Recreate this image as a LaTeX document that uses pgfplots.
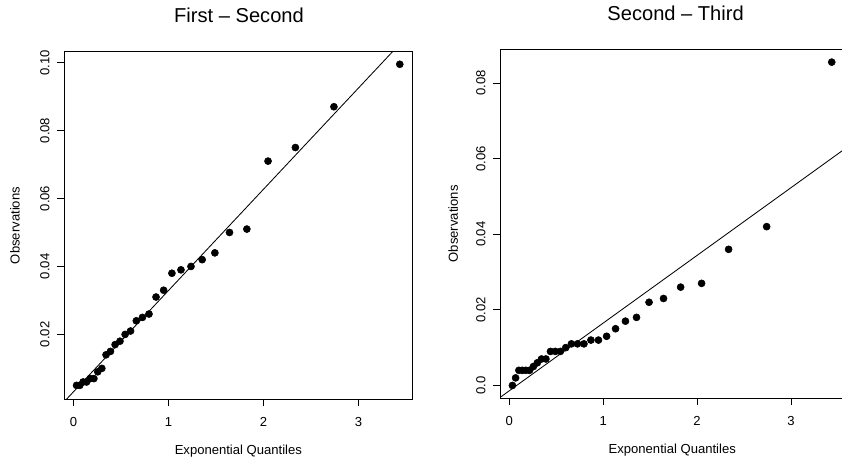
\documentclass[border=0pt]{standalone}
\usepackage{fontspec}
\setmainfont{Liberation Sans}
\usepackage{pgfplots}
\pgfplotsset{compat=1.18}

% x positions: exponential quantiles log(31/(31-i)), i = 1..30
\pgfplotsset{
  qq/.style={
    scale only axis,
    tick align=outside,
    tick pos=left,
    major tick length=0.17cm,
    axis line style={line width=0.7pt},
    every tick/.style={line width=0.6pt, black},
    /pgf/number format/assume math mode=true,
    scaled ticks=false,
    tick label style={font=\fontsize{9.3}{11}\selectfont},
    label style={font=\fontsize{9.3}{11}\selectfont},
    xlabel={Exponential Quantiles},
    ylabel={Observations},
    xmin=-0.0994, xmax=3.57,
    xtick={0,1,2,3},
    xticklabels={0,1,2,3},
    xticklabel style={yshift=-0.16cm},
    yticklabel shift=2pt,
    yticklabel style={rotate=90, anchor=south},
    clip=true,
  },
  pts/.style={only marks, mark=*, mark size=2.5pt, black},
  ref/.style={black, line width=0.6pt, no marks},
}

\begin{document}
\begin{tikzpicture}
\useasboundingbox (0,0) rectangle (21.05,-11.575);
\clip (0,0) rectangle (21.05,-11.575);

\begin{axis}[qq,
    at={(1.6cm,-9.9825cm)}, anchor=south west,
    width=8.7175cm, height=8.69cm,
    ymin=0.0009, ymax=0.1032,
    ytick={0.02,0.04,0.06,0.08,0.10},
    yticklabels={0.02,0.04,0.06,0.08,0.10},
    xlabel style={at={(axis description cs:0.5,-0.1496)}, anchor=center},
    ylabel style={at={(axis description cs:-0.1405,0.5)}, anchor=center},
]
\addplot[ref] coordinates {(-0.2,-0.00286) (3.7,0.1134)};
\addplot[pts] coordinates {
  (0.03279,0.005) (0.06669,0.005) (0.10178,0.006) (0.13815,0.006)
  (0.17589,0.007) (0.21511,0.007) (0.25593,0.009) (0.29849,0.010)
  (0.34294,0.014) (0.38946,0.015) (0.43825,0.017) (0.48955,0.018)
  (0.54362,0.020) (0.60077,0.021) (0.66140,0.024) (0.72594,0.025)
  (0.79493,0.026) (0.86904,0.031) (0.94908,0.033) (1.03609,0.038)
  (1.13140,0.039) (1.23676,0.040) (1.35454,0.042) (1.48807,0.044)
  (1.64222,0.050) (1.82455,0.051) (2.04769,0.071) (2.33537,0.075)
  (2.74084,0.087) (3.43399,0.0995)
};
\end{axis}

\begin{axis}[qq,
    at={(12.5cm,-9.9575cm)}, anchor=south west,
    width=8.6125cm, height=8.725cm,
    ymin=-0.0034, ymax=0.0889,
    ytick={0,0.02,0.04,0.06,0.08},
    yticklabels={0.0,0.02,0.04,0.06,0.08},
    xlabel style={at={(axis description cs:0.5,-0.148)}, anchor=center},
    ylabel style={at={(axis description cs:-0.1358,0.5)}, anchor=center},
]
\addplot[ref] coordinates {(-0.2,-0.00498) (3.7,0.06483)};
\addplot[pts] coordinates {
  (0.03279,0.000) (0.06669,0.002) (0.10178,0.004) (0.13815,0.004)
  (0.17589,0.004) (0.21511,0.004) (0.25593,0.005) (0.29849,0.006)
  (0.34294,0.007) (0.38946,0.007) (0.43825,0.009) (0.48955,0.009)
  (0.54362,0.009) (0.60077,0.010) (0.66140,0.011) (0.72594,0.011)
  (0.79493,0.011) (0.86904,0.012) (0.94908,0.012) (1.03609,0.013)
  (1.13140,0.015) (1.23676,0.017) (1.35454,0.018) (1.48807,0.022)
  (1.64222,0.023) (1.82455,0.026) (2.04769,0.027) (2.33537,0.036)
  (2.74084,0.042) (3.43399,0.0855)
};
\end{axis}

% panel titles
\node[font=\fontsize{14.3}{17}\selectfont] at (5.975,-0.375) {First -- Second};
\node[font=\fontsize{14.3}{17}\selectfont] at (16.89,-0.325) {Second -- Third};
\end{tikzpicture}
\end{document}
